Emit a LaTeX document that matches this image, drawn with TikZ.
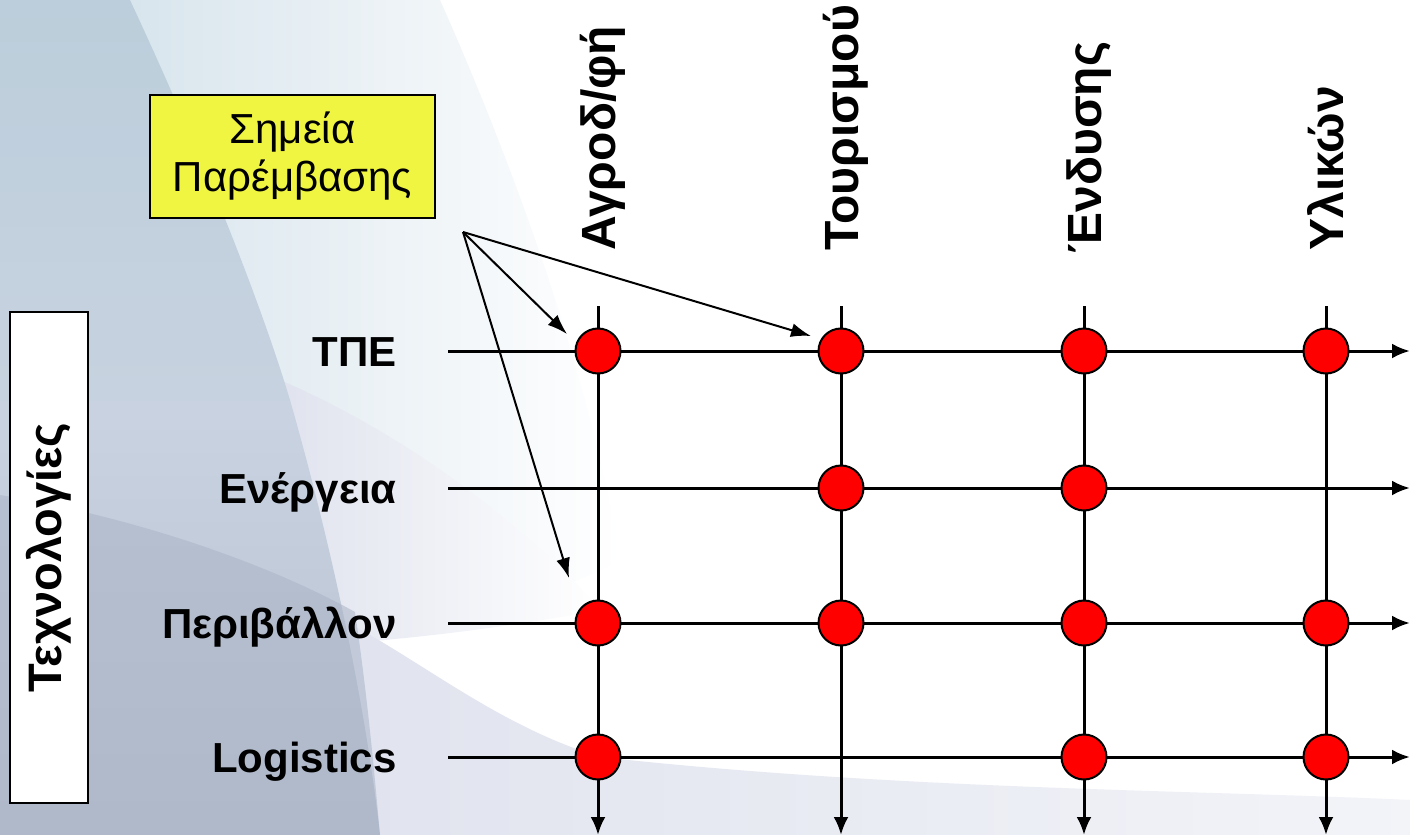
\documentclass[tikz,border=0pt]{standalone}
\usepackage{fontspec}
\setmainfont{Liberation Sans}
\usetikzlibrary{arrows.meta}
\definecolor{dotred}{RGB}{255,0,0}
\definecolor{boxyellow}{RGB}{240,245,66}
\definecolor{bgBand}{RGB}{206,222,232}
\definecolor{bgLav}{RGB}{224,227,238}
\definecolor{bgTop}{RGB}{188,206,219}
\definecolor{bgMid}{RGB}{200,210,224}
\definecolor{bgBot}{RGB}{184,192,208}
\definecolor{bgDark}{RGB}{170,180,198}
\tikzset{
  dot/.style={circle, fill=dotred, draw=black, line width=1pt, minimum size=22.5pt, inner sep=0pt},
  gridline/.style={line width=1.5pt, -{Latex[length=9pt,width=7.5pt]}},
  pointer/.style={line width=1pt, -{Latex[length=10pt,width=7pt]}},
  rowlabel/.style={anchor=base east, font=\fontsize{21pt}{25pt}\selectfont\bfseries, inner sep=0pt},
  collabel/.style={anchor=base west, rotate=90, font=\fontsize{24pt}{28pt}\selectfont\bfseries, inner sep=0pt},
  notebox/.style={draw=black, line width=0.8pt, fill=boxyellow, align=center, inner sep=0pt,
    minimum width=142.5pt, minimum height=61.5pt, font=\fontsize{21pt}{24pt}\selectfont},
  techbox/.style={draw=black, line width=0.8pt, fill=white, rotate=90, inner sep=0pt,
    minimum width=245.5pt, minimum height=39pt, font=\fontsize{23.5pt}{27pt}\selectfont\bfseries}
}
\begin{document}
\begin{tikzpicture}[x=0.5pt,y=-0.5pt]
\useasboundingbox (0,0) rectangle (1410,835);
% background
\fill[white] (0,0) rectangle (1410,835);
% light blue band beside the sweep, fading to white
\shade[left color=bgBand, right color=white] (0,0) -- (440,0)
  .. controls (520,180) and (590,380) .. (620,560)
  .. controls (520,610) and (440,630) .. (384,640) -- (0,640) -- cycle;
% lavender haze in the middle-left
\shade[left color=bgLav, right color=white] (280,380)
  .. controls (420,440) and (540,540) .. (600,610)
  .. controls (520,625) and (440,635) .. (384,640) -- (300,640) -- cycle;
% lower lavender region
\shade[left color=bgLav, right color=bgLav!40!white] (300,600)
  .. controls (400,640) and (480,720) .. (600,757)
  .. controls (900,790) and (1200,790) .. (1410,800) -- (1410,835) -- (300,835) -- cycle;
% main blue-grey sweep
\shade[top color=bgTop, bottom color=bgBot, middle color=bgMid] (0,0) -- (130,0)
  .. controls (200,150) and (260,300) .. (290,400)
  .. controls (330,540) and (365,700) .. (380,835) -- (0,835) -- cycle;
% darker lower-left area
\fill[bgDark, opacity=0.55] (0,495) .. controls (150,520) and (280,570) .. (355,612)
  .. controls (368,700) and (375,780) .. (380,835) -- (0,835) -- cycle;

% grid end points
\coordinate (r1s) at (448,351);  \coordinate (r1e) at (1410,351);
\coordinate (r2s) at (448,488);  \coordinate (r2e) at (1410,488);
\coordinate (r3s) at (448,623);  \coordinate (r3e) at (1410,623);
\coordinate (r4s) at (448,757);  \coordinate (r4e) at (1410,757);
\coordinate (c1s) at (598,306);  \coordinate (c1e) at (598,835);
\coordinate (c2s) at (841,306);  \coordinate (c2e) at (841,835);
\coordinate (c3s) at (1084,306); \coordinate (c3e) at (1084,835);
\coordinate (c4s) at (1326,306); \coordinate (c4e) at (1326,835);

\foreach \i in {1,2,3,4}{
  \draw[gridline] (r\i s) -- (r\i e);
  \draw[gridline] (c\i s) -- (c\i e);
}

% dots
\node[dot] (d11) at (598,351) {};
\node[dot] (d12) at (841,351) {};
\node[dot] (d13) at (1084,351) {};
\node[dot] (d14) at (1326,351) {};
\node[dot] (d22) at (841,488) {};
\node[dot] (d23) at (1084,488) {};
\node[dot] (d31) at (598,623) {};
\node[dot] (d32) at (841,623) {};
\node[dot] (d33) at (1084,623) {};
\node[dot] (d34) at (1326,623) {};
\node[dot] (d41) at (598,757) {};
\node[dot] (d43) at (1084,757) {};
\node[dot] (d44) at (1326,757) {};

% row labels
\node[rowlabel] (l1) at (397,366) {ΤΠΕ};
\node[rowlabel] (l2) at (397,503) {Ενέργεια};
\node[rowlabel] (l3) at (397,638) {Περιβάλλον};
\node[rowlabel] (l4) at (397,772) {Logistics};

% column labels
\node[collabel] (k1) at (615,251) {Αγροδ/φή};
\node[collabel] (k2) at (858,251) {Τουρισμού};
\node[collabel] (k3) at (1101,254) {Ένδυσης};
\node[collabel] (k4) at (1343,251) {Υλικών};

% boxes
\node[notebox] (note) at (292.5,156.5) {Σημεία\\Παρέμβασης};
\node[techbox] (tech) at (49,557.5) {Τεχνολογίες};

% pointers
\coordinate (src) at (463,232);
\coordinate (t1) at (567,334);
\coordinate (t2) at (811,336);
\coordinate (t3) at (569,578);
\draw[pointer] (src) -- (t1);
\draw[pointer] (src) -- (t2);
\draw[pointer] (src) -- (t3);
\end{tikzpicture}
\end{document}
